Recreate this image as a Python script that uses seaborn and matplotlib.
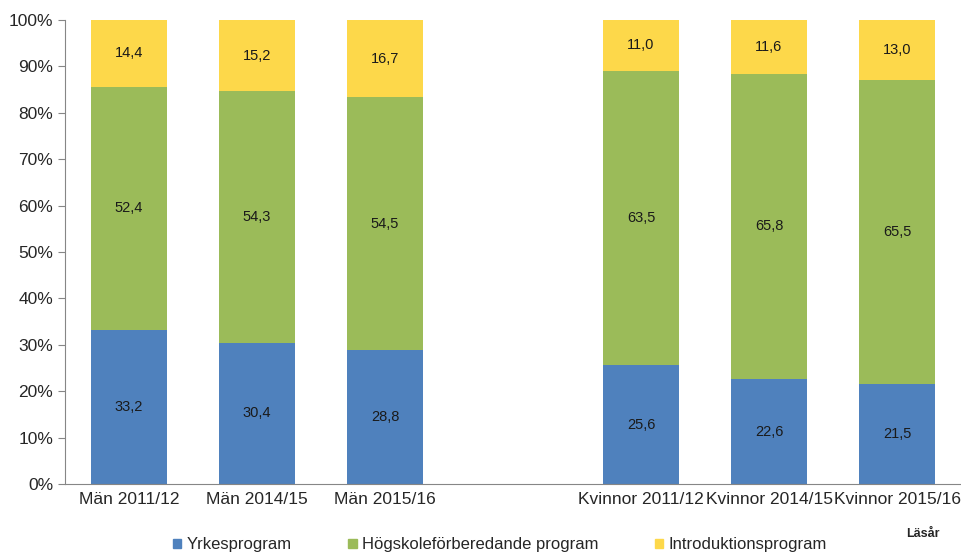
import numpy as np
import pandas as pd
import matplotlib.pyplot as plt
import seaborn as sns

# data (percent)
categories = ["Män 2011/12", "Män 2014/15", "Män 2015/16", " ",
              "Kvinnor 2011/12", "Kvinnor 2014/15", "Kvinnor 2015/16"]
groups = ["Män 2011/12", "Män 2014/15", "Män 2015/16",
          "Kvinnor 2011/12", "Kvinnor 2014/15", "Kvinnor 2015/16"]
yrkes = [33.2, 30.4, 28.8, 25.6, 22.6, 21.5]
hogskole = [52.4, 54.3, 54.5, 63.5, 65.8, 65.5]
intro = [14.4, 15.2, 16.7, 11.0, 11.6, 13.0]
series_names = ["Yrkesprogram", "Högskoleförberedande program", "Introduktionsprogram"]
colors = ["#4F81BD", "#9BBB59", "#FDD84A"]

sns.set_style("white")
plt.rcParams['font.family'] = ['Liberation Sans', 'DejaVu Sans']

df = pd.DataFrame({"grupp": groups, "yrkes": yrkes, "hogskole": hogskole, "intro": intro})
df["c1"] = df["yrkes"]
df["c2"] = df["yrkes"] + df["hogskole"]
df["c3"] = df["c2"] + df["intro"]

fig, ax = plt.subplots(figsize=(9.61, 5.55), dpi=100)
fig.subplots_adjust(left=65/961, right=1.0, top=1-20/555, bottom=1-484/555)

# stacked bars drawn as overlapping cumulative totals
for col, color in zip(["c3", "c2", "c1"], colors[::-1]):
    sns.barplot(data=df, x="grupp", y=col, order=categories, color=color,
                width=0.59, saturation=1, ax=ax, errorbar=None, linewidth=0)

# value labels centred in each segment
for i, row in df.iterrows():
    xpos = categories.index(row["grupp"])
    bottoms = [0, row["c1"], row["c2"]]
    for val, b in zip([row["yrkes"], row["hogskole"], row["intro"]], bottoms):
        ax.text(xpos, b + val / 2, f"{val:.1f}".replace(".", ","),
                ha="center", va="center", fontsize=10.5, color="#1a1a1a")

ax.set_ylim(0, 100)
ax.set_xlim(-0.5, len(categories) - 0.5)
ax.set_yticks(np.arange(0, 101, 10))
ax.set_yticklabels([f"{v}%" for v in range(0, 101, 10)], fontsize=12.5)
ax.set_xlabel("")
ax.set_ylabel("")
ax.tick_params(axis="x", which="major", length=0, labelsize=12.5, pad=6)
ax.set_xticks(np.arange(-0.5, len(categories), 1), minor=True)
ax.tick_params(axis="x", which="minor", length=5, color="#868686", direction="out")
ax.tick_params(axis="y", length=5, color="#868686", direction="out", left=True)
for s in ["top", "right"]:
    ax.spines[s].set_visible(False)
for s in ["left", "bottom"]:
    ax.spines[s].set_color("#868686")

handles = [plt.Rectangle((0, 0), 1, 1, color=c) for c in colors]
fig.legend(handles, series_names, loc="lower center", bbox_to_anchor=(0.52, -0.022),
           ncol=3, frameon=False, fontsize=12, handlelength=0.5, handleheight=0.5,
           handletextpad=0.3, columnspacing=3.4)
fig.text(0.978, 1 - 534/555, "Läsår", ha="right", va="center", fontsize=9, fontweight="bold")

fig.savefig("out.png", dpi=100)
